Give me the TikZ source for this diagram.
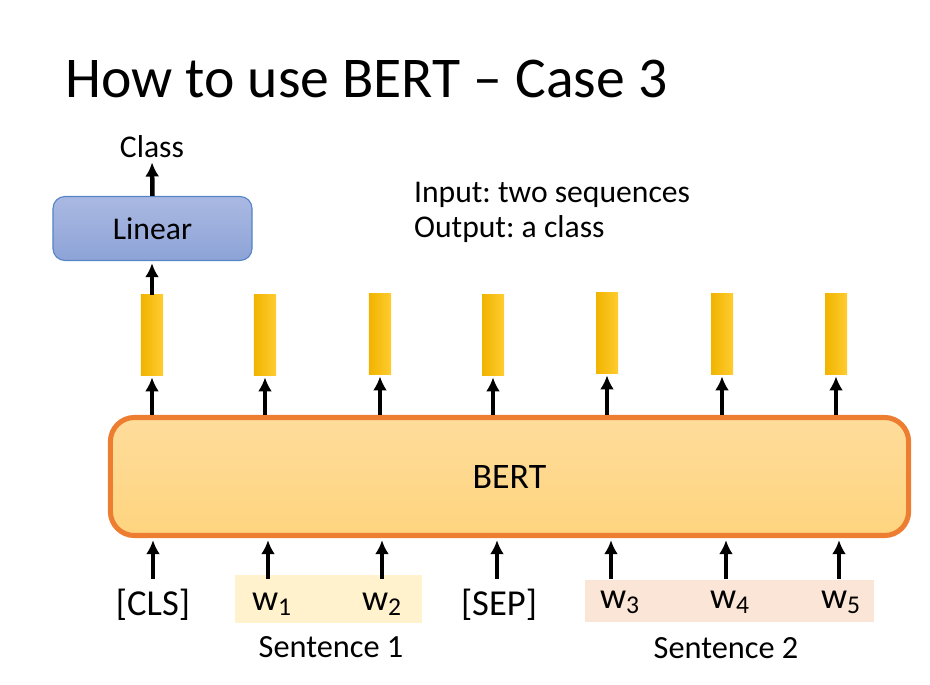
\documentclass[tikz,border=0pt]{standalone}
\usepackage{fontspec}
\setmainfont{Carlito}
\usepackage{tikz}
\usetikzlibrary{arrows.meta,positioning}
\frenchspacing

\definecolor{linearfillA}{HTML}{AAB9E2}
\definecolor{linearfillB}{HTML}{8DA3D7}
\definecolor{linearline}{HTML}{5585C6}
\definecolor{bertfillA}{HTML}{FEDC9B}
\definecolor{bertfillB}{HTML}{FED47E}
\definecolor{bertline}{HTML}{ED7D31}
\definecolor{barA}{HTML}{F0B400}
\definecolor{barB}{HTML}{FFCC30}
\definecolor{sentA}{HTML}{FFF2CC}
\definecolor{sentB}{HTML}{FBE5D6}

\begin{document}
\begin{tikzpicture}[x=0.025cm, y=-0.025cm, >={Latex[length=10pt,width=10pt]},
	arr/.style={->, line width=3.2pt, shorten >=1.5pt},
	txt/.style={font=\fontsize{22.5}{27}\selectfont, inner sep=2pt},
	token/.style={font=\fontsize{26}{31}\selectfont, anchor=base, inner sep=2pt, text height=20pt, text depth=6pt},
	bar/.style={rectangle, minimum width=0.55cm, minimum height=2cm, inner sep=0pt, left color=barA, right color=barB},
	linbox/.style={rectangle, rounded corners=0.3cm, draw=linearline, line width=0.8pt, top color=linearfillA, bottom color=linearfillB, minimum width=4.975cm, minimum height=1.6cm, font=\fontsize{22.5}{27}\selectfont},
	bertbox/.style={rectangle, rounded corners=0.6cm, draw=bertline, line width=3.6pt, top color=bertfillA, bottom color=bertfillB, minimum width=19.95cm, minimum height=2.95cm, font=\fontsize{25.5}{30}\selectfont}]
	%\draw [help lines] (0,0) grid (930,685);
	\useasboundingbox (0,0) rectangle (930,685);
	\node [anchor=base west, inner sep=0pt, font=\fontsize{41}{49}\selectfont] (title) at (65,97) {How to use BERT \textendash\ Case 3};
	\node [txt, anchor=base west] (input) at (411,202) {Input: two sequences};
	\node [txt, anchor=base west] (output) at (411,237) {Output: a class};
	% classifier on top of [CLS]
	\node [txt, anchor=base] (class) at (152,157) {Class};
	\node [linbox] (linear) at (152.5,228.5) {Linear};
	\draw [arr] (linear.north) -- (class.south);
	% BERT and its outputs
	\node [bertbox] (bert) at (509.5,476.5) {BERT};
	\node [bar] (bar1) at (152,335) {};
	\node [bar] (bar2) at (265,335) {};
	\node [bar] (bar3) at (380,334) {};
	\node [bar] (bar4) at (493,335) {};
	\node [bar] (bar5) at (607,333) {};
	\node [bar] (bar6) at (722,334) {};
	\node [bar] (bar7) at (836,334) {};
	\draw [arr] (bar1.north) -- (bar1.north |- linear.south);
	\draw [arr] (bar1.south |- bert.north) -- (bar1.south);
	\draw [arr] (bar2.south |- bert.north) -- (bar2.south);
	\draw [arr] (bar3.south |- bert.north) -- (bar3.south);
	\draw [arr] (bar4.south |- bert.north) -- (bar4.south);
	\draw [arr] (bar5.south |- bert.north) -- (bar5.south);
	\draw [arr] (bar6.south |- bert.north) -- (bar6.south);
	\draw [arr] (bar7.south |- bert.north) -- (bar7.south);
	% input tokens
	\fill [sentA] (235,575) rectangle (422,623);
	\fill [sentB] (585,580) rectangle (874,622);
	\node [token] (cls) at (153,615) {[CLS]};
	\node [token] (w1) at (272,610) {w\textsubscript{1}};
	\node [token] (w2) at (382,610) {w\textsubscript{2}};
	\node [token] (sep) at (499,615) {[SEP]};
	\node [token] (w3) at (620,608) {w\textsubscript{3}};
	\node [token] (w4) at (730,608) {w\textsubscript{4}};
	\node [token] (w5) at (841,608) {w\textsubscript{5}};
	\coordinate (in1) at (153,579);
	\coordinate (in2) at (268,579);
	\coordinate (in3) at (382,579);
	\coordinate (in4) at (497,579);
	\coordinate (in5) at (611,579);
	\coordinate (in6) at (726,579);
	\coordinate (in7) at (839,579);
	\draw [arr] (in1) -- (in1 |- bert.south);
	\draw [arr] (in2) -- (in2 |- bert.south);
	\draw [arr] (in3) -- (in3 |- bert.south);
	\draw [arr] (in4) -- (in4 |- bert.south);
	\draw [arr] (in5) -- (in5 |- bert.south);
	\draw [arr] (in6) -- (in6 |- bert.south);
	\draw [arr] (in7) -- (in7 |- bert.south);
	\node [txt, anchor=base, font=\fontsize{23}{28}\selectfont] (sent1) at (331,657) {Sentence 1};
	\node [txt, anchor=base, font=\fontsize{23}{28}\selectfont] (sent2) at (726,658) {Sentence 2};
\end{tikzpicture}
\end{document}
